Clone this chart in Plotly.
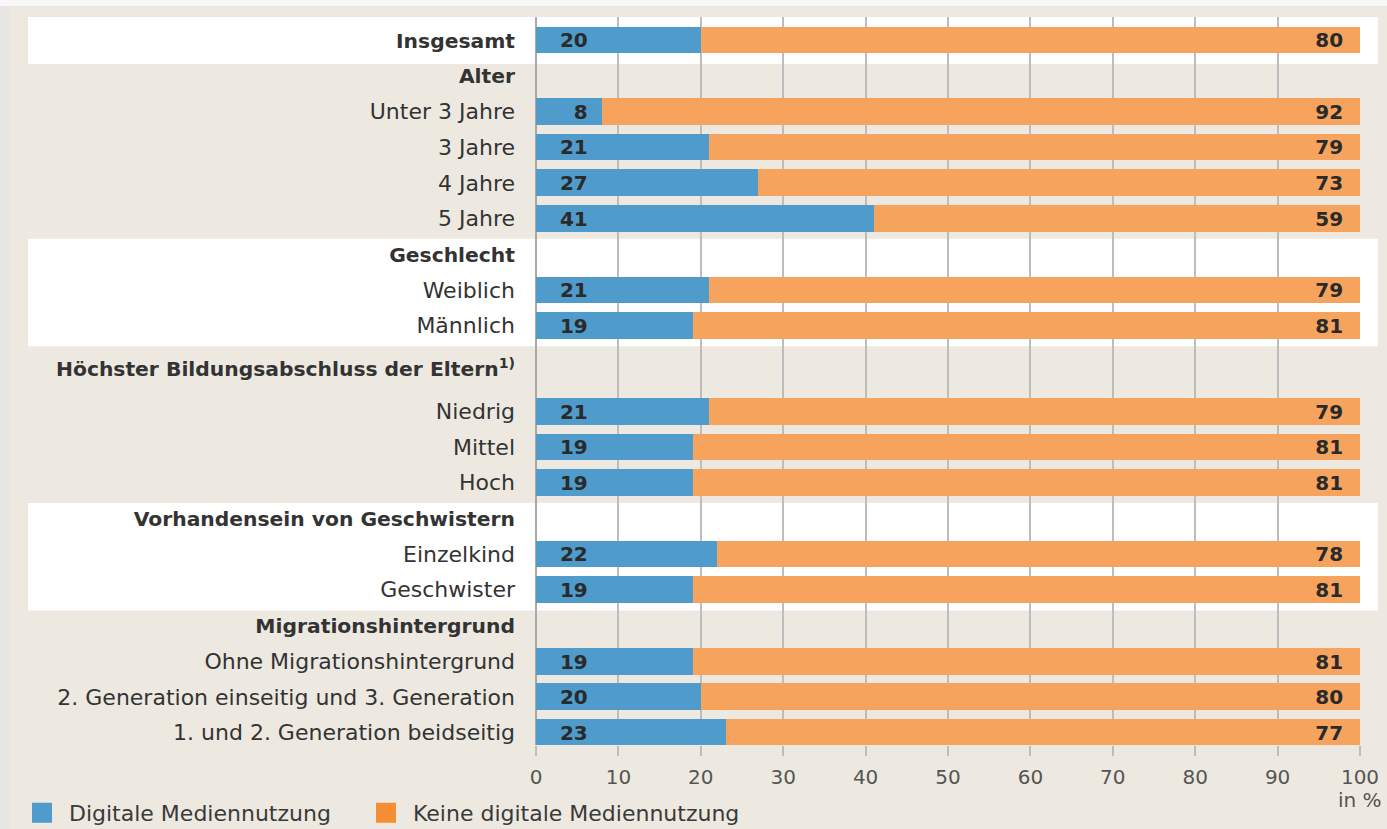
import plotly.graph_objects as go

# ---- data ----
labels = [
    "Insgesamt", "Alter", "Unter 3 Jahre", "3 Jahre", "4 Jahre", "5 Jahre",
    "Geschlecht", "Weiblich", "Männlich",
    "Höchster Bildungsabschluss der Eltern<sup>1)</sup>", "Niedrig", "Mittel", "Hoch",
    "Vorhandensein von Geschwistern", "Einzelkind", "Geschwister",
    "Migrationshintergrund", "Ohne Migrationshintergrund",
    "2. Generation einseitig und 3. Generation", "1. und 2. Generation beidseitig",
]
bold_rows = [0, 1, 6, 9, 13, 16]
digital = [20, None, 8, 21, 27, 41, None, 21, 19, None, 21, 19, 19, None, 22, 19, None, 19, 20, 23]
keine = [80, None, 92, 79, 73, 59, None, 79, 81, None, 79, 81, 81, None, 78, 81, None, 81, 80, 77]
series_names = ["Digitale Mediennutzung", "Keine digitale Mediennutzung"]
x_ticks = [0, 10, 20, 30, 40, 50, 60, 70, 80, 90, 100]
white_groups = [(0, 0), (6, 8), (13, 15)]

# ---- styles ----
BLUE = "#4F9BCB"
ORANGE = "#F6A45D"
ORANGE_LEG = "#F68E34"
BEIGE = "#EDE9E0"
GRID = "#BDBDBD"
TXT = "#333333"
LABEL_FONT = "DejaVu Sans"
NUM_FONT = "DejaVu Sans"

# row positions (wider gap around the education heading)
pos = []
p = 0.0
for i in range(len(labels)):
    if i > 0:
        p += 1.2 if i in (9, 10) else 1.0
    pos.append(p)

ticktext = [f"<span style='font-size:20.3px'><b>{l}</b></span>" if i in bold_rows else l
            for i, l in enumerate(labels)]

rows = [i for i, v in enumerate(digital) if v is not None]
y_rows = [pos[i] for i in rows]
d_vals = [digital[i] for i in rows]
k_vals = [keine[i] for i in rows]
NB = "\u00a0"
d_text = [NB * 3 + ("\u2007" if v < 10 else "") + str(v) for v in d_vals]
k_text = [str(v) + NB * 2 for v in k_vals]

fig = go.Figure()
numfont = dict(family=NUM_FONT, size=20, color="#2a2a2a", weight="bold")
fig.add_trace(go.Bar(
    y=y_rows, x=d_vals, orientation="h", name=series_names[0],
    marker=dict(color=BLUE, line=dict(width=0)), width=0.75,
    text=d_text, textposition="inside", insidetextanchor="start",
    textfont=numfont, insidetextfont=numfont, constraintext="none", textangle=0,
    showlegend=False, hoverinfo="skip",
))
fig.add_trace(go.Bar(
    y=y_rows, x=k_vals, orientation="h", name=series_names[1],
    marker=dict(color=ORANGE, line=dict(width=0)), width=0.75,
    text=k_text, textposition="inside", insidetextanchor="end",
    textfont=numfont, insidetextfont=numfont, constraintext="none", textangle=0,
    showlegend=False, hoverinfo="skip",
))
# legend entries (one legend box each)
for name, col, lg in zip(series_names, [BLUE, ORANGE_LEG], ["legend", "legend2"]):
    fig.add_trace(go.Scatter(
        x=[None], y=[None], mode="markers", name=NB + name, legend=lg,
        marker=dict(symbol="square", size=16, color=col, line=dict(color=col, width=4)),
    ))

# plot geometry
W, H = 1387, 829
ML, MR, MT, MB = 536, 27, 17, 84
pw = W - ML - MR
ph = H - MT - MB
unit = 35.7  # px per row unit
top = pos[0] - (40 - MT) / unit
bottom = top + ph / unit

shapes = []
# page edge strips
shapes.append(dict(type="rect", xref="paper", yref="paper",
                   x0=-ML / pw, x1=(9 - ML) / pw, y0=-MB / ph, y1=1 + MT / ph,
                   fillcolor="#E6E6E6", line=dict(width=0), layer="below"))
shapes.append(dict(type="rect", xref="paper", yref="paper",
                   x0=-ML / pw, x1=1 + MR / pw, y0=1 + (MT - 6) / ph, y1=1 + MT / ph,
                   fillcolor="#F8F8F8", line=dict(width=0), layer="below"))
# white group bands
for a, b in white_groups:
    y0 = pos[a] - (0.7 if a == 0 else 0.43)
    y1 = pos[b] + (0.67 if a == 0 else 0.58)
    shapes.append(dict(type="rect", xref="paper", yref="y",
                       x0=(28 - ML) / pw, x1=(1378 - ML) / pw, y0=y0, y1=y1,
                       fillcolor="white", line=dict(width=0), layer="below"))

leg_common = dict(orientation="h", xanchor="left",
                  y=-(813 - (H - MB)) / ph, yanchor="middle",
                  font=dict(family=LABEL_FONT, size=22, color="#3a3a3a"),
                  bgcolor="rgba(0,0,0,0)", itemwidth=30)

fig.update_layout(
    width=W, height=H,
    margin=dict(l=ML, r=MR, t=MT, b=MB, pad=0, autoexpand=False),
    paper_bgcolor=BEIGE, plot_bgcolor="rgba(0,0,0,0)",
    barmode="stack", bargap=0,
    shapes=shapes,
    showlegend=True,
    legend=dict(x=(22 - ML) / pw, **leg_common),
    legend2=dict(x=(366 - ML) / pw, **leg_common),
    xaxis=dict(range=[0, 100], tickvals=x_ticks, showgrid=True, gridcolor=GRID, gridwidth=1.5,
               zeroline=True, zerolinecolor="#A8A8A8", zerolinewidth=1.5,
               ticks="outside", ticklen=10, tickcolor=GRID, tickwidth=1.5,
               ticklabelstandoff=4,
               tickfont=dict(family=NUM_FONT, size=20, color="#555555"),
               showline=False, fixedrange=True, automargin=False),
    yaxis=dict(range=[bottom, top], tickvals=pos, ticktext=ticktext, showgrid=False,
               zeroline=False, showline=False, ticks="", ticklabelstandoff=20,
               tickfont=dict(family=LABEL_FONT, size=22, color=TXT), fixedrange=True,
               automargin=False),
    annotations=[dict(text="in %", xref="x", x=100, yref="paper", y=0, yshift=-55,
                      xanchor="center", yanchor="middle", showarrow=False,
                      font=dict(family=NUM_FONT, size=20, color="#555555"))],
)

fig.write_html("out.html", config={"displayModeBar": False},
               post_script="document.body.style.margin='0';")
